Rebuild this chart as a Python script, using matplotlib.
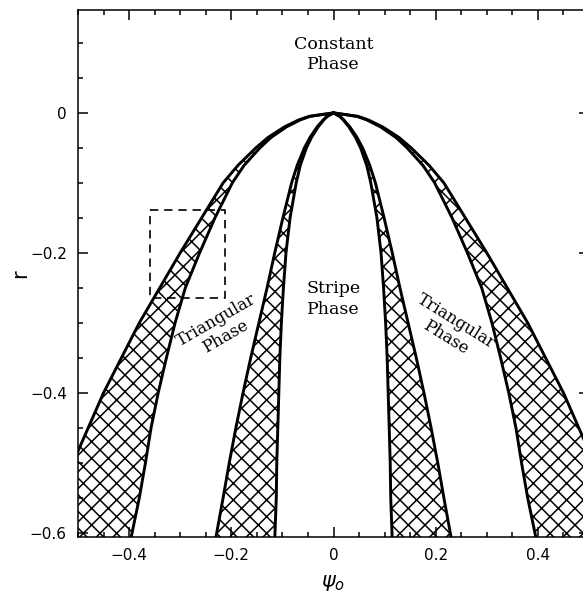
import numpy as np
import matplotlib.pyplot as plt
from matplotlib.ticker import MultipleLocator

plt.rcParams['hatch.linewidth'] = 1.1

# r values at which the phase boundaries are listed (denser near the top)
r_vals = [0.0, -0.005, -0.01, -0.02, -0.035, -0.05, -0.075, -0.1, -0.15, -0.2,
          -0.25, -0.3, -0.35, -0.4, -0.45, -0.5, -0.55, -0.61]

# right-hand (psi > 0) boundaries; the diagram is symmetric in psi
stripe_inner = [0.0, 0.012, 0.019, 0.030, 0.043, 0.053, 0.065, 0.073, 0.085, 0.093,
                0.098, 0.102, 0.105, 0.107, 0.109, 0.111, 0.112, 0.115]
stripe_outer = [0.0, 0.013, 0.020, 0.032, 0.046, 0.057, 0.071, 0.082, 0.099, 0.115,
                0.130, 0.146, 0.162, 0.177, 0.191, 0.204, 0.216, 0.231]
tri_inner = [0.0, 0.046, 0.065, 0.092, 0.122, 0.144, 0.175, 0.198, 0.232, 0.262,
             0.290, 0.310, 0.327, 0.343, 0.357, 0.368, 0.380, 0.397]
tri_outer = [0.0, 0.048, 0.068, 0.096, 0.128, 0.152, 0.187, 0.216, 0.258, 0.300,
             0.340, 0.380, 0.415, 0.450, 0.480, 0.510, 0.535, 0.565]

# dashed box (psi range, r range)
box_psi = [-0.359, -0.212]
box_r = [-0.264, -0.139]

r = np.array(r_vals)
bands = [(np.array(stripe_inner), np.array(stripe_outer)),
         (np.array(tri_inner), np.array(tri_outer))]

fig = plt.figure(figsize=(5.83, 5.95), dpi=100)
ax = fig.add_axes([78 / 583, 1 - 537 / 595, 511 / 583, 527 / 595])

for lo, hi in bands:
    for sign in (1, -1):
        ax.fill_betweenx(r, sign * lo, sign * hi, facecolor='none',
                         edgecolor='black', hatch='xx', linewidth=0)
        ax.plot(sign * lo, r, color='black', lw=2.1, solid_joinstyle='round')
        ax.plot(sign * hi, r, color='black', lw=2.1, solid_joinstyle='round')

ax.plot([box_psi[0], box_psi[1], box_psi[1], box_psi[0], box_psi[0]],
        [box_r[1], box_r[1], box_r[0], box_r[0], box_r[1]],
        color='black', lw=1.2, ls=(0, (5, 3.5)))

serif = 'DejaVu Serif'
ax.text(0.0, 0.083, 'Constant\nPhase', ha='center', va='center',
        fontsize=12.5, family=serif, linespacing=1.25)
ax.text(0.0, -0.266, 'Stripe\nPhase', ha='center', va='center',
        fontsize=12.5, family=serif, linespacing=1.25)
ax.text(-0.221, -0.308, 'Triangular\nPhase', ha='center', va='center',
        fontsize=12, family=serif, rotation=30, linespacing=1.15,
        rotation_mode='anchor')
ax.text(0.230, -0.31, 'Triangular\nPhase', ha='center', va='center',
        fontsize=12, family=serif, rotation=-32, linespacing=1.15,
        rotation_mode='anchor')

ax.set_xlim(-0.5, 0.5)
ax.set_ylim(-0.606, 0.147)
ax.xaxis.set_minor_locator(MultipleLocator(0.05))
ax.yaxis.set_minor_locator(MultipleLocator(0.05))
ax.set_xticks([-0.4, -0.2, 0, 0.2, 0.4])
ax.set_xticklabels(['\u22120.4', '\u22120.2', '0', '0.2', '0.4'])
ax.set_yticks([0, -0.2, -0.4, -0.6])
ax.set_yticklabels(['0', '\u22120.2', '\u22120.4', '\u22120.6'])
ax.tick_params(which='both', direction='in', top=True, right=True,
               width=1.1, labelsize=11)
ax.tick_params(which='major', length=7.5, pad=8)
ax.tick_params(which='minor', length=3.8)
for s in ax.spines.values():
    s.set_linewidth(1.1)

ax.set_xlabel(r'$\psi_o$', fontsize=15, va='center')
ax.xaxis.set_label_coords(0.5, -0.087)
ax.set_ylabel('r', fontsize=15, va='center')
ax.yaxis.set_label_coords(-0.1135, 0.5)

fig.savefig('out.png', dpi=100)
